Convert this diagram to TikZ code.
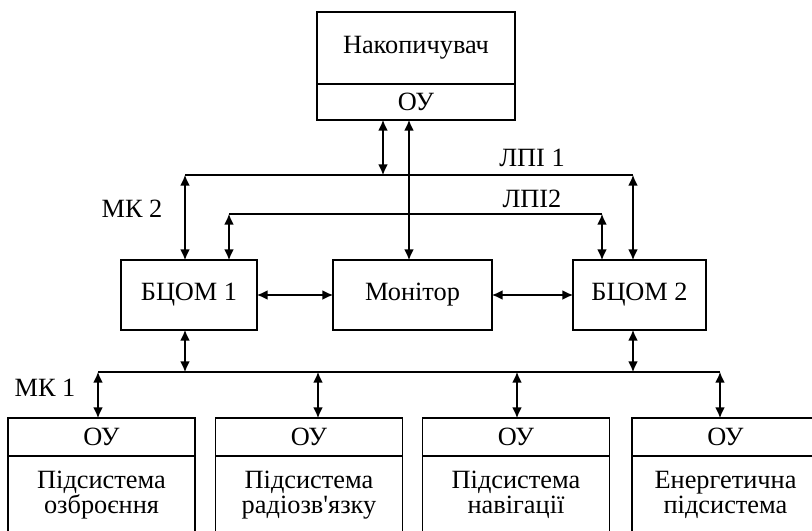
\documentclass[tikz,border=0pt]{standalone}
\usepackage{fontspec}
\setmainfont{Liberation Serif}[Ligatures=TeXOff]
\usetikzlibrary{positioning,arrows.meta}

\begin{document}
\begin{tikzpicture}[x=0.02cm, y=-0.02cm, line width=0.75pt,
        blk/.style={draw, shape=rectangle, inner sep=0pt, outer sep=0pt, font=\fontsize{15}{14.5}\selectfont, align=center},
        lbl/.style={font=\fontsize{15}{14.5}\selectfont, inner sep=0pt},
        arr/.style={{Latex[length=6pt,width=5.5pt]}-{Latex[length=6pt,width=5.5pt]}}]
        \useasboundingbox (0,0) rectangle (812,531);
        \clip (0,0) rectangle (812,531);

        \node[blk, style={minimum width=3.96cm, minimum height=1.44cm}] (nak) at (416,48) {Накопичувач};
        \node[blk, style={minimum width=3.96cm, minimum height=0.72cm}] (nakou) [below=0cm of nak] {ОУ};

        \node[blk, style={minimum width=2.72cm, minimum height=1.4cm}] (bc1) at (189,295) {БЦОМ 1};
        \node[blk, style={minimum width=3.18cm, minimum height=1.4cm}] (mon) at (412.5,295) {Монітор};
        \node[blk, style={minimum width=2.66cm, minimum height=1.4cm}] (bc2) at (639.5,295) {БЦОМ 2};

        \node[blk, style={minimum width=3.74cm, minimum height=0.76cm}] (ou1) at (101.5,437) {ОУ};
        \node[blk, style={minimum width=3.74cm, minimum height=1.56cm}] (ps1) [below=0cm of ou1] {Підсистема\\озброєння};
        \node[blk, style={minimum width=3.74cm, minimum height=0.76cm}] (ou2) at (309,437) {ОУ};
        \node[blk, style={minimum width=3.74cm, minimum height=1.56cm}] (ps2) [below=0cm of ou2] {Підсистема\\радіозв'язку};
        \node[blk, style={minimum width=3.74cm, minimum height=0.76cm}] (ou3) at (516,437) {ОУ};
        \node[blk, style={minimum width=3.74cm, minimum height=1.56cm}] (ps3) [below=0cm of ou3] {Підсистема\\навігації};
        \node[blk, style={minimum width=3.74cm, minimum height=0.76cm}] (ou4) at (725.5,437) {ОУ};
        \node[blk, style={minimum width=3.74cm, minimum height=1.56cm}] (ps4) [below=0cm of ou4] {Енергетична\\підсистема};

        \node[lbl] (lpi1) at (532,158) {ЛПІ 1};
        \node[lbl] (lpi2) at (532,199) {ЛПІ2};
        \node[lbl] (mk2) at (132,209) {МК 2};
        \node[lbl] (mk1) at (45,388) {МК 1};

        \coordinate (l1a) at (185,175);
        \coordinate (l1b) at (633,175);
        \coordinate (l2a) at (229,214);
        \coordinate (l2b) at (602,214);
        \coordinate (n1) at (383,175);
        \coordinate (mt) at (409,0);
        \coordinate (k1) at (98,372);
        \coordinate (k2) at (318,372);
        \coordinate (k3) at (517,372);
        \coordinate (k4) at (720,372);
        \coordinate (k5) at (185,372);
        \coordinate (k6) at (633,372);

        \draw (l1a) -- (l1b) (l2a) -- (l2b) (k1) -- (k4);
        \draw[arr] (n1 |- nakou.south) -- (n1);
        \draw[arr] (nakou.south -| mt) -- (mon.north -| mt);
        \draw[arr] (l1a) -- (l1a |- bc1.north);
        \draw[arr] (l2a) -- (l2a |- bc1.north);
        \draw[arr] (l1b) -- (l1b |- bc2.north);
        \draw[arr] (l2b) -- (l2b |- bc2.north);
        \draw[arr] (bc1.east) -- (mon.west);
        \draw[arr] (mon.east) -- (bc2.west);
        \draw[arr] (k5 |- bc1.south) -- (k5);
        \draw[arr] (k6 |- bc2.south) -- (k6);
        \draw[arr] (k1) -- (k1 |- ou1.north);
        \draw[arr] (k2) -- (k2 |- ou2.north);
        \draw[arr] (k3) -- (k3 |- ou3.north);
        \draw[arr] (k4) -- (k4 |- ou4.north);
\end{tikzpicture}
\end{document}
